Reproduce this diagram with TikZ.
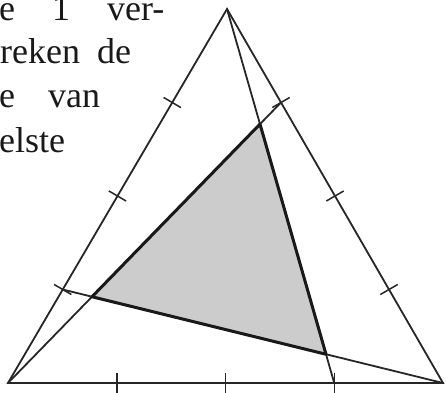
\documentclass[tikz,border=0pt]{standalone}
\usepackage{fontspec}
\setmainfont{Liberation Serif}
\usetikzlibrary{calc}
\begin{document}
\begin{tikzpicture}[x=1pt,y=-1pt,
  sideline/.style={line width=1.8pt, draw=black!85, line cap=round},
  tickline/.style={line width=1.5pt, draw=black!85},
  innerfill/.style={fill=black!20},
  inner/.style={line width=3pt, draw=black!90, line join=round},
  word/.style={anchor=base west, inner sep=0pt, font=\fontsize{36}{40}\selectfont, text=black!90}]
\useasboundingbox (0,0) rectangle (446,392);
\clip (0,0) rectangle (446,392);
% text
\node[word] (w1) at (-1,20) {e};
\node[word] (w2) at (52,20) {1};
\node[word] (w3) at (107,20) {ver-};
\node[word] (w4) at (0,63) {reken};
\node[word] (w5) at (97,63) {de};
\node[word] (w6) at (-1,107) {e};
\node[word] (w7) at (48,107) {van};
\node[word] (w8) at (-1,152) {elste};
% vertices
\coordinate (A) at (8,383);
\coordinate (B) at (443,383);
\coordinate (C) at (227,9);
% cevian feet
\coordinate (Pa) at ($(B)!0.75!(C)$);
\coordinate (Pb) at ($(C)!0.75!(A)$);
\coordinate (Pc) at ($(A)!0.75!(B)$);
% inner triangle
\coordinate (X) at (intersection of A--Pa and B--Pb);
\coordinate (Y) at (intersection of B--Pb and C--Pc);
\coordinate (Z) at (intersection of C--Pc and A--Pa);
\fill[innerfill] (X) -- (Y) -- (Z) -- cycle;
% sides
\draw[sideline] (A) -- (B) -- (C) -- cycle;
% cevians
\draw[sideline] (A) -- (Pa);
\draw[sideline] (B) -- (Pb);
\draw[sideline] (C) -- (Pc);
\draw[inner] (X) -- (Y) -- (Z) -- cycle;
% ticks
\foreach \s/\e in {A/B,B/C,C/A}{
  \foreach \t in {0.25,0.5,0.75}{
    \coordinate (T) at ($(\s)!\t!(\e)$);
    \draw[tickline] ($(T)!10pt!90:(\e)$) -- ($(T)!10pt!-90:(\e)$);
  }
}
\end{tikzpicture}
\end{document}
